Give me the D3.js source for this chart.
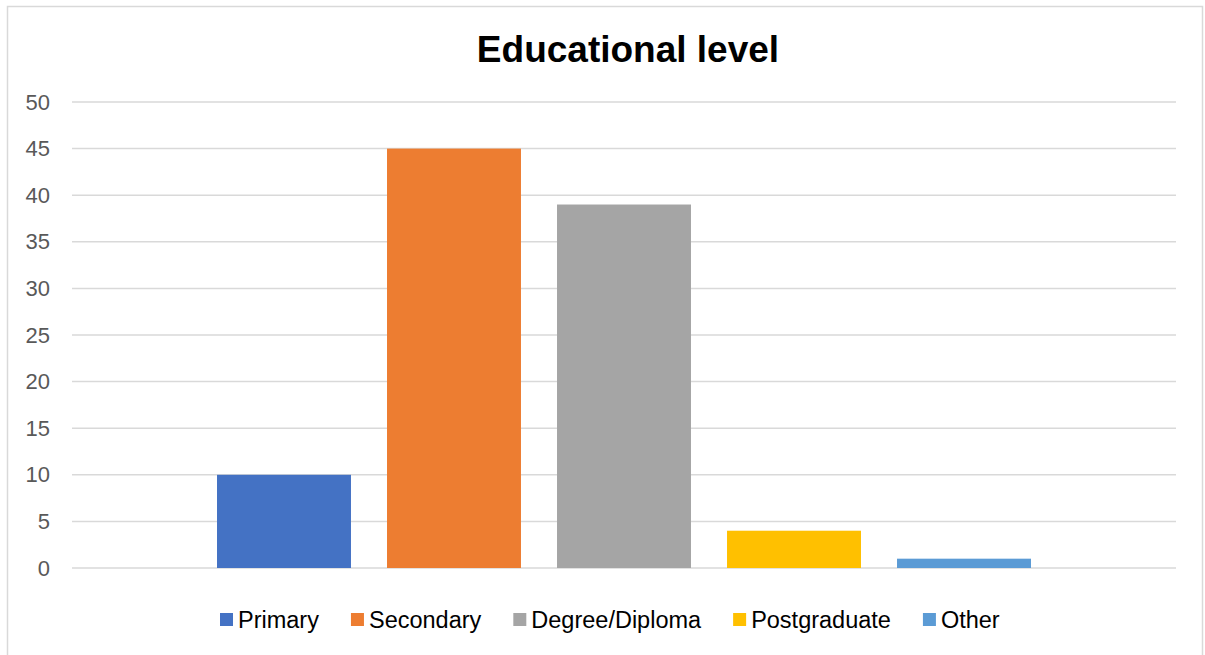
<!DOCTYPE html>
<html>
<head>
<meta charset="utf-8">
<script src="https://cdn.jsdelivr.net/npm/d3@7"></script>
<style>
  html, body { margin: 0; padding: 0; background: #fff; }
  svg { display: block; font-family: "Liberation Sans", Arial, sans-serif; }
</style>
</head>
<body>
<svg id="chart" width="1205" height="655"></svg>
<script>
const title = "Educational level";
const series = ["Primary", "Secondary", "Degree/Diploma", "Postgraduate", "Other"];
const values = [10, 45, 39, 4, 1];
const colors = ["#4472C4", "#ED7D31", "#A5A5A5", "#FFC000", "#5B9BD5"];
const yTicks = [0, 5, 10, 15, 20, 25, 30, 35, 40, 45, 50];

const svg = d3.select("#chart");

// chart border
svg.append("rect")
  .attr("x", 7.5).attr("y", 6.5)
  .attr("width", 1195).attr("height", 660)
  .attr("fill", "#fff").attr("stroke", "#d9d9d9").attr("stroke-width", 1.5);

const plot = { left: 72, right: 1176, top: 102, bottom: 568 };

const y = d3.scaleLinear().domain([0, 50]).range([plot.bottom, plot.top]);
const x = d3.scaleBand().domain(series).range([plot.left, plot.right])
  .paddingInner(0.212).paddingOuter(0.853);

// gridlines
svg.append("g").selectAll("line").data(yTicks).join("line")
  .attr("x1", plot.left).attr("x2", plot.right)
  .attr("y1", d => y(d)).attr("y2", d => y(d))
  .attr("stroke", "#d9d9d9").attr("stroke-width", 1.5);

// y axis labels
const yAxis = d3.axisLeft(y).tickValues(yTicks).tickSize(0).tickPadding(0);
const gy = svg.append("g").attr("transform", "translate(50,0)").call(yAxis);
gy.select(".domain").remove();
gy.selectAll("text")
  .attr("fill", "#595959")
  .style("font-size", "22px")
  .style("font-family", "'Liberation Sans', Arial, sans-serif");

// bars
svg.append("g").selectAll("rect").data(series).join("rect")
  .attr("x", d => x(d))
  .attr("width", x.bandwidth())
  .attr("y", (d, i) => y(values[i]))
  .attr("height", (d, i) => y(0) - y(values[i]))
  .attr("fill", (d, i) => colors[i]);

// title
svg.append("text")
  .attr("x", 628).attr("y", 62)
  .attr("text-anchor", "middle")
  .attr("font-weight", "bold")
  .attr("font-size", 37)
  .attr("fill", "#000")
  .text(title);

// legend
const legend = svg.append("g");
const fs = 23.5, sq = 13, gapText = 5, gapItem = 32;
const items = legend.selectAll("g").data(series).join("g");
items.append("rect")
  .attr("width", sq).attr("height", sq)
  .attr("y", 613)
  .attr("fill", (d, i) => colors[i]);
items.append("text")
  .attr("x", sq + gapText).attr("y", 627.5)
  .attr("font-size", fs).attr("fill", "#000")
  .text(d => d);
const widths = [];
items.each(function() { widths.push(d3.select(this).select("text").node().getComputedTextLength()); });
let cx = 220;
items.attr("transform", (d, i) => {
  const t = `translate(${cx},0)`;
  cx += sq + gapText + widths[i] + gapItem;
  return t;
});
</script>
</body>
</html>
